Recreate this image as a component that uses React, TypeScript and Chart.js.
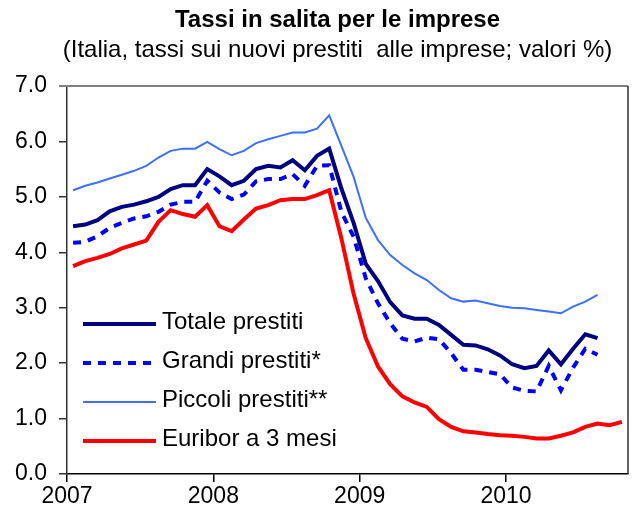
import React, { useEffect, useRef } from 'react';
import { Chart, registerables } from 'chart.js';

Chart.register(...registerables);

// Monthly data, Jan 2007 – Oct 2010
const yearLabels = ['2007', '2008', '2009', '2010'];
const yTickValues = [0, 1, 2, 3, 4, 5, 6, 7];

const titleText = 'Tassi in salita per le imprese';
const subtitleText = '(Italia, tassi sui nuovi prestiti  alle imprese; valori %)';

const totalePrestiti = [
  4.47, 4.5, 4.58, 4.74, 4.82, 4.86, 4.92, 5.0, 5.14, 5.21, 5.21, 5.5,
  5.37, 5.21, 5.29, 5.5, 5.56, 5.53, 5.66, 5.48, 5.74, 5.87, 5.15, 4.53,
  3.79, 3.48, 3.1, 2.86, 2.8, 2.8, 2.69, 2.51, 2.33, 2.32, 2.25, 2.14,
  1.98, 1.91, 1.95, 2.23, 1.98, 2.26, 2.52, 2.45,
];

const grandiPrestiti = [
  4.17, 4.19, 4.29, 4.44, 4.53, 4.61, 4.65, 4.73, 4.86, 4.91, 4.91, 5.29,
  5.08, 4.96, 5.04, 5.28, 5.32, 5.32, 5.41, 5.2, 5.56, 5.57, 4.73, 4.28,
  3.53, 3.08, 2.72, 2.44, 2.39, 2.46, 2.43, 2.18, 1.88, 1.88, 1.84, 1.8,
  1.56, 1.5, 1.49, 1.95, 1.51, 1.92, 2.26, 2.15,
];

const piccoliPrestiti = [
  5.12, 5.2, 5.26, 5.33, 5.4, 5.47, 5.56, 5.71, 5.83, 5.87, 5.87, 5.99,
  5.86, 5.75, 5.83, 5.97, 6.04, 6.1, 6.16, 6.16, 6.23, 6.47, 5.92, 5.36,
  4.62, 4.22, 3.95, 3.77, 3.62, 3.5, 3.32, 3.17, 3.11, 3.13, 3.08, 3.03,
  3.0, 2.99, 2.96, 2.93, 2.9, 3.02, 3.11, 3.23,
];

const euribor3m = [
  3.75, 3.84, 3.9, 3.97, 4.07, 4.14, 4.21, 4.55, 4.76, 4.69, 4.64, 4.85,
  4.47, 4.38, 4.59, 4.79, 4.85, 4.94, 4.96, 4.96, 5.03, 5.12, 4.25, 3.25,
  2.45, 1.94, 1.62, 1.4, 1.29, 1.21, 0.99, 0.85, 0.77, 0.75, 0.72, 0.7,
  0.69, 0.67, 0.64, 0.64, 0.69, 0.75, 0.85, 0.91, 0.88, 0.94,
];

const totalMonths = 46;

const toPoints = (vals: number[]) => vals.map((v, i) => ({ x: i + 0.5, y: v }));

const FONT = '"Liberation Sans", Arial, Helvetica, sans-serif';

const titlePlugin = {
  id: 'titles',
  afterDraw(chart: any) {
    const { ctx, chartArea } = chart;
    const cx = (chartArea.left + chartArea.right) / 2 - 10;
    ctx.save();
    ctx.fillStyle = '#000';
    ctx.textAlign = 'center';
    ctx.textBaseline = 'middle';
    ctx.font = `bold 24px ${FONT}`;
    ctx.fillText(titleText, cx, 20);
    ctx.font = `24px ${FONT}`;
    ctx.fillText(subtitleText, cx, 50);
    ctx.restore();
  },
};

const framePlugin = {
  id: 'frame',
  beforeDatasetsDraw(chart: any) {
    const { ctx, chartArea } = chart;
    ctx.save();
    ctx.lineWidth = 2;
    ctx.strokeStyle = '#808080';
    ctx.beginPath();
    ctx.moveTo(chartArea.left - 8, chartArea.top);
    ctx.lineTo(chartArea.right, chartArea.top);
    ctx.stroke();
    ctx.lineWidth = 1.5;
    ctx.strokeStyle = '#333333';
    ctx.beginPath();
    ctx.moveTo(chartArea.right, chartArea.top);
    ctx.lineTo(chartArea.right, chartArea.bottom);
    ctx.stroke();
    ctx.restore();
  },
};

const legendPlugin = {
  id: 'insideLegend',
  afterDraw(chart: any) {
    const { ctx, chartArea } = chart;
    const x0 = chartArea.left + 16;
    const x1 = chartArea.left + 89;
    const tx = chartArea.left + 95;
    const firstY = chartArea.top + 238;
    const step = 39;
    chart.data.datasets.forEach((ds: any, i: number) => {
      const y = firstY + i * step;
      ctx.save();
      ctx.strokeStyle = ds.borderColor;
      ctx.lineWidth = ds.borderWidth;
      ctx.setLineDash(ds.borderDash || []);
      ctx.beginPath();
      ctx.moveTo(x0, y);
      ctx.lineTo(x1, y);
      ctx.stroke();
      ctx.setLineDash([]);
      ctx.fillStyle = '#000000';
      ctx.font = `24px ${FONT}`;
      ctx.textAlign = 'left';
      ctx.textBaseline = 'middle';
      ctx.fillText(ds.label, tx, y - 2);
      ctx.restore();
    });
  },
};

export default function App() {
  const canvasRef = useRef<HTMLCanvasElement | null>(null);

  useEffect(() => {
    if (!canvasRef.current) return;
    Chart.defaults.font.family = FONT;
    const chart = new Chart(canvasRef.current, {
      type: 'line',
      data: {
        datasets: [
          {
            label: 'Totale prestiti',
            data: toPoints(totalePrestiti),
            borderColor: '#000080',
            borderWidth: 4,
            pointRadius: 0,
            tension: 0,
          },
          {
            label: 'Grandi prestiti*',
            data: toPoints(grandiPrestiti),
            borderColor: '#0000FF',
            borderWidth: 4,
            borderDash: [8, 7],
            pointRadius: 0,
            tension: 0,
          },
          {
            label: 'Piccoli prestiti**',
            data: toPoints(piccoliPrestiti),
            borderColor: '#3F6FFF',
            borderWidth: 2,
            pointRadius: 0,
            tension: 0,
          },
          {
            label: 'Euribor a 3 mesi',
            data: toPoints(euribor3m),
            borderColor: '#FF0000',
            borderWidth: 4,
            pointRadius: 0,
            tension: 0,
          },
        ],
      },
      options: {
        animation: false,
        responsive: false,
        maintainAspectRatio: false,
        layout: { padding: { left: 0, right: 7, top: 86, bottom: 0 } },
        plugins: {
          legend: { display: false },
          tooltip: { enabled: false },
          title: { display: false },
          subtitle: { display: false },
        },
        scales: {
          x: {
            type: 'linear',
            min: 0,
            max: totalMonths,
            afterBuildTicks: (scale: any) => {
              scale.ticks = yearLabels.map((_, i) => ({ value: i * 12 }));
            },
            afterFit: (scale: any) => {
              scale.height = 41;
            },
            ticks: {
              color: '#000',
              font: { size: 23, family: FONT },
              padding: 1,
              maxRotation: 0,
              autoSkip: false,
              callback: (v: any) => yearLabels[Math.round(Number(v) / 12)] ?? '',
            },
            grid: {
              drawOnChartArea: false,
              drawTicks: true,
              tickLength: 8,
              color: '#000',
              lineWidth: 1.5,
            },
            border: { display: true, color: '#000', width: 1.5 },
          },
          y: {
            min: 0,
            max: 7,
            afterBuildTicks: (scale: any) => {
              scale.ticks = yTickValues.map((v) => ({ value: v }));
            },
            afterFit: (scale: any) => {
              scale.width = 67;
            },
            ticks: {
              color: '#000',
              font: { size: 23, family: FONT },
              padding: 12,
              callback: (v: any) => Number(v).toFixed(1),
            },
            grid: {
              drawOnChartArea: false,
              drawTicks: true,
              tickLength: 8,
              color: '#333',
              lineWidth: 1.5,
            },
            border: { display: true, color: '#333', width: 1.5 },
          },
        },
      },
      plugins: [framePlugin, legendPlugin, titlePlugin],
    });
    return () => chart.destroy();
  }, []);

  return (
    <div style={{ position: 'absolute', left: 0, top: 0, width: 635, height: 515, background: '#fff' }}>
      <canvas ref={canvasRef} width={635} height={515} style={{ width: 635, height: 515, display: 'block' }} />
    </div>
  );
}
